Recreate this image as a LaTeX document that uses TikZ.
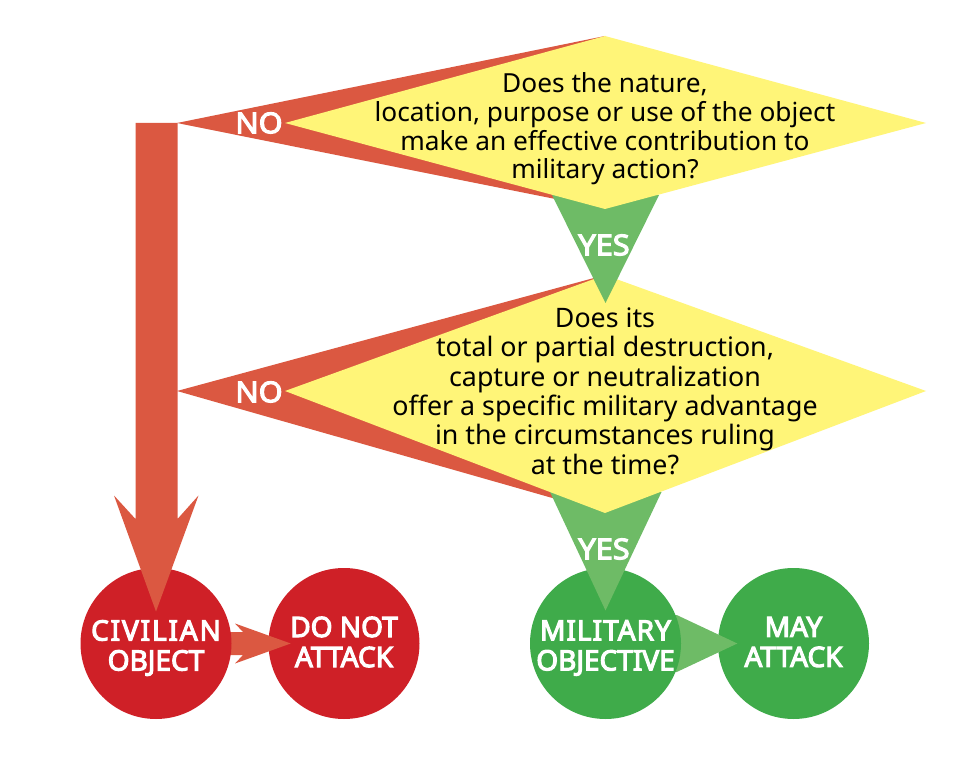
\documentclass[tikz,border=0pt]{standalone}
\usepackage{fontspec}
\setmainfont{Noto Sans}
\newfontfamily\lblfont[FakeBold=4.0,FakeStretch=1.07]{Noto Sans}
\newfontfamily\outfont[FakeBold=4.0]{Noto Sans}
\newfontfamily\outwide[FakeBold=4.0,LetterSpace=6.6]{Noto Sans}
\newfontfamily\outmid[FakeBold=4.0,LetterSpace=3.6]{Noto Sans}
\definecolor{qyellow}{HTML}{FFF578}
\definecolor{redarrow}{HTML}{DB5841}
\definecolor{redcirc}{HTML}{CF2027}
\definecolor{greenarrow}{HTML}{6EBB66}
\definecolor{greencirc}{HTML}{3FAB4A}
\tikzset{
  qtexta/.style={align=center,text=black,inner sep=0pt,font=\fontsize{19.7}{21.5}\selectfont},
  qtextb/.style={align=center,text=black,inner sep=0pt,font=\fontsize{20.1}{22}\selectfont},
  lbl/.style={text=white,inner sep=0pt,font=\lblfont\fontsize{21.5}{22.5}\selectfont},
  outlbl/.style={text=white,inner sep=0pt,align=center,font=\outfont\fontsize{21}{22.5}\selectfont},
  outcome/.style={circle,minimum size=113.25pt,inner sep=0pt},
  redout/.style={outcome,fill=redcirc},
  greenout/.style={outcome,fill=greencirc},
  redflow/.style={fill=redarrow},
  greenflow/.style={fill=greenarrow},
  qfill/.style={fill=qyellow}
}
\begin{document}
\begin{tikzpicture}[x=.75pt,y=-.75pt]
\useasboundingbox[fill=white] (0,0) rectangle (960,780);
% question corners
\coordinate (q1t) at (605,36); \coordinate (q1b) at (605,209);
\coordinate (q1r) at (926,123); \coordinate (q1l) at (285,123);
\coordinate (q2t) at (605,275); \coordinate (q2b) at (605,513);
\coordinate (q2r) at (926,391); \coordinate (q2l) at (285,391);
\coordinate (no1tip) at (177,123);
\coordinate (no2tip) at (177,391);
% red NO wedges
\fill[redflow] (no1tip) -- (q1t) -- (q1b) -- cycle;
\fill[redflow] (no2tip) -- (q2t) -- (q2b) -- cycle;
% outcome circles on the far side of the small arrows
\node[redout] (donot) at (344,643.5) {};
\node[greenout] (may) at (793.5,643.5) {};
% small arrows
\fill[redflow] (225,632) -- (243,632) -- (235,623.5) -- (290.7,643.5) -- (235,663.5) -- (243,655) -- (225,655) -- cycle;
\fill[greenflow] (668,615) -- (676.7,615) -- (737.3,643.5) -- (676.7,672) -- (668,672) -- cycle;
\node[redout] (civ) at (156,643.5) {};
% main red arrow
\fill[redflow] (135.5,123) -- (177.5,123) -- (177.5,519) -- (198.5,495.5) -- (156,611.5) -- (114,495.5) -- (135.5,519) -- cycle;
% lower question and YES wedges
\node[greenout] (mil) at (605.5,643.5) {};
\fill[greenflow] (550,492) -- (661.5,492) -- (605.5,610.5) -- cycle;
\fill[qfill] (q2t) -- (q2r) -- (q2b) -- (q2l) -- cycle;
\fill[greenflow] (552,195) -- (659,195) -- (605.5,303) -- cycle;
\fill[qfill] (q1t) -- (q1r) -- (q1b) -- (q1l) -- cycle;
% texts
\node[qtexta] (q1) at (605,129) {Does the nature,\\location, purpose or use of the object\\make an effective contribution to\\military action?};
\node[qtextb] (q2) at (605,391) {Does its\\total or partial destruction,\\capture or neutralization\\offer a specific military advantage\\in the circumstances ruling\\at the time?};
\node[lbl] (no1) at (259,123) {NO};
\node[lbl] (no2) at (259,392) {NO};
\node[lbl] (yes1) at (604,245) {YES};
\node[lbl] (yes2) at (604,549) {YES};
\node[outlbl] (civt) at (156,648) {{\outwide\fontsize{21}{22.5}\selectfont CIVILIAN}\\OBJECT};
\node[outlbl] (donott) at (344,642) {DO NOT\\ATTACK};
\node[outlbl] (milt) at (605.5,648) {{\outmid\fontsize{21}{22.5}\selectfont MILITARY}\\OBJECTIVE};
\node[outlbl] (mayt) at (793.5,642) {MAY\\ATTACK};
\end{tikzpicture}
\end{document}
